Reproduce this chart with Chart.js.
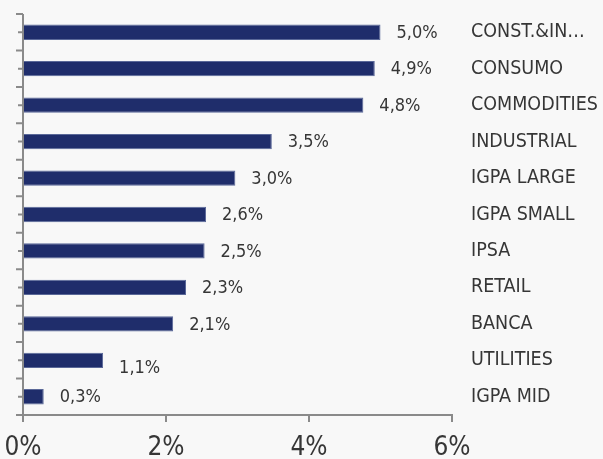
<!DOCTYPE html>
<html>
<head>
<meta charset="utf-8">
<script src="https://cdn.jsdelivr.net/npm/chart.js@4.4.1/dist/chart.umd.min.js"></script>
<style>
  html, body { margin: 0; padding: 0; background: #f8f8f8; }
  #wrap { width: 603px; height: 459px; position: relative; }
</style>
</head>
<body>
<div id="wrap"><canvas id="c" width="603" height="459"></canvas></div>
<script>
const categories = ["CONST.&IN…", "CONSUMO", "COMMODITIES", "INDUSTRIAL", "IGPA LARGE", "IGPA SMALL", "IPSA", "RETAIL", "BANCA", "UTILITIES", "IGPA MID"];
const values = [5.0, 4.92, 4.76, 3.48, 2.97, 2.56, 2.54, 2.28, 2.1, 1.12, 0.29];
const valueLabels = ["5,0%", "4,9%", "4,8%", "3,5%", "3,0%", "2,6%", "2,5%", "2,3%", "2,1%", "1,1%", "0,3%"];
const xTicks = [0, 2, 4, 6];

const AXIS_COLOR = '#8a8a8a';
const TEXT_COLOR = '#363636';
const CAT_FONT = '"DejaVu Sans Condensed", "DejaVu Sans", sans-serif';
const TICK_FONT = '"Liberation Sans Narrow", "DejaVu Sans Condensed", sans-serif';

const bgPlugin = {
  id: 'bg',
  beforeDraw(chart) {
    const ctx = chart.ctx;
    ctx.save();
    ctx.fillStyle = '#f8f8f8';
    ctx.fillRect(0, 0, chart.width, chart.height);
    ctx.restore();
  }
};

const leftAxisPlugin = {
  id: 'leftAxis',
  afterDraw(chart) {
    const ctx = chart.ctx;
    const ca = chart.chartArea;
    const ys = chart.scales.y;
    const n = categories.length;
    const band = (ys.getPixelForValue(1) - ys.getPixelForValue(0));
    ctx.save();
    ctx.strokeStyle = AXIS_COLOR;
    ctx.lineWidth = 2;
    ctx.beginPath();
    ctx.moveTo(ca.left, ca.top);
    ctx.lineTo(ca.left, ca.bottom);
    for (let i = 0; i < n; i++) {
      const yc = ys.getPixelForValue(i);
      const yb = yc - band / 2;
      ctx.moveTo(ca.left - 7, yb);
      ctx.lineTo(ca.left, yb);
      ctx.moveTo(ca.left - 5, yc);
      ctx.lineTo(ca.left, yc);
    }
    const yLast = ys.getPixelForValue(n - 1) + band / 2;
    ctx.moveTo(ca.left - 7, yLast);
    ctx.lineTo(ca.left, yLast);
    ctx.stroke();
    ctx.restore();
  }
};

const valueLabelPlugin = {
  id: 'valueLabels',
  afterDatasetsDraw(chart) {
    const ctx = chart.ctx;
    const meta = chart.getDatasetMeta(0);
    ctx.save();
    ctx.font = '18px ' + CAT_FONT;
    ctx.fillStyle = TEXT_COLOR;
    ctx.textAlign = 'left';
    ctx.textBaseline = 'middle';
    meta.data.forEach((bar, i) => {
      const dy = (i === 9) ? 7 : 0;
      ctx.fillText(valueLabels[i], bar.x + 16, bar.y + dy + 1);
    });
    ctx.restore();
  }
};

new Chart(document.getElementById('c'), {
  type: 'bar',
  data: {
    labels: categories,
    datasets: [{
      data: values,
      backgroundColor: '#1f2d6b',
      borderColor: '#5a6898',
      borderWidth: 1,
      categoryPercentage: 1,
      barPercentage: 0.42
    }]
  },
  options: {
    indexAxis: 'y',
    responsive: false,
    animation: false,
    events: [],
    layout: { padding: { left: 23, top: 14, right: 0, bottom: 0 } },
    plugins: { legend: { display: false }, tooltip: { enabled: false } },
    scales: {
      x: {
        type: 'linear',
        position: 'bottom',
        min: 0,
        max: 6,
        afterBuildTicks(scale) { scale.ticks = xTicks.map(v => ({ value: v })); },
        afterFit(scale) { scale.height = 44; scale.paddingLeft = 0; scale.paddingRight = 0; },
        grid: { display: true, drawOnChartArea: false, drawTicks: true, tickLength: 7, color: AXIS_COLOR, lineWidth: 2 },
        border: { display: true, color: AXIS_COLOR, width: 2 },
        ticks: {
          padding: 11,
          color: TEXT_COLOR,
          font: { family: TICK_FONT, size: 26 },
          callback: v => v + '%'
        }
      },
      y: {
        type: 'category',
        position: 'right',
        offset: true,
        afterFit(scale) { scale.width = 151; scale.paddingTop = 0; scale.paddingBottom = 0; },
        grid: { display: false, drawTicks: false },
        border: { display: false },
        ticks: {
          padding: 19,
          color: TEXT_COLOR,
          font: { family: CAT_FONT, size: 19.5 },
          autoSkip: false
        }
      }
    }
  },
  plugins: [bgPlugin, leftAxisPlugin, valueLabelPlugin]
});
</script>
</body>
</html>
